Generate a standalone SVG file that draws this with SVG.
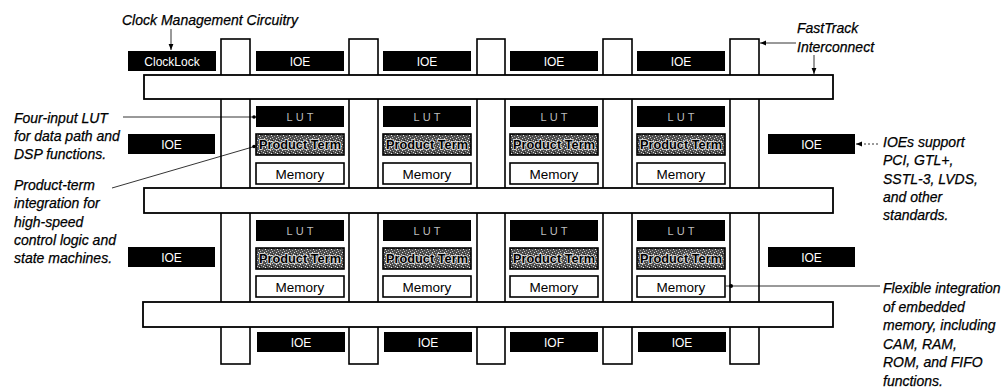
<svg xmlns="http://www.w3.org/2000/svg" width="1004" height="390" viewBox="0 0 1004 390">
<defs>
<style>
.col{fill:#fff;stroke:#000;stroke-width:1.6}
.bar{fill:#fff;stroke:#000;stroke-width:1.8}
.blk{fill:#000}
.ioet{fill:#fff;font-family:'Liberation Sans',Arial,sans-serif;font-size:12px;text-anchor:middle}
.lutt{fill:#bdbdbd;font-family:'Liberation Sans',Arial,sans-serif;font-size:11px;letter-spacing:3px;text-anchor:middle}
.pt{fill:url(#speck);stroke:#000;stroke-width:1.6}
.ptt{fill:#000;stroke:#e6e6e6;stroke-width:1.6;paint-order:stroke;font-family:'Liberation Sans',Arial,sans-serif;font-size:12px;font-weight:bold;text-anchor:middle}
.mem{fill:#fff;stroke:#000;stroke-width:1.6}
.memt{fill:#000;font-family:'Liberation Sans',Arial,sans-serif;font-size:13.5px;text-anchor:middle}
.lbl{fill:#000;stroke:#000;stroke-width:0.25;font-family:'Liberation Sans',Arial,sans-serif;font-size:14px;font-style:italic}
.lead{stroke:#000;stroke-width:0.8;fill:none}
.dash{stroke-dasharray:2 2}
</style>
<pattern id="speck" width="6" height="6" patternUnits="userSpaceOnUse">
<rect width="6" height="6" fill="#4e4e4e"/>
<rect x="0" y="0" width="1" height="1" fill="#e0e0e0"/>
<rect x="3" y="1" width="1" height="1" fill="#b0b0b0"/>
<rect x="1" y="3" width="1" height="1" fill="#f0f0f0"/>
<rect x="4" y="4" width="1" height="1" fill="#a0a0a0"/>
<rect x="5" y="2" width="1" height="1" fill="#d0d0d0"/>
<rect x="2" y="5" width="1" height="1" fill="#c8c8c8"/>
<rect x="2" y="2" width="1" height="1" fill="#1a1a1a"/>
</pattern>
<marker id="ah" viewBox="0 0 10 10" refX="10" refY="5" markerWidth="6" markerHeight="6" markerUnits="userSpaceOnUse" orient="auto"><path d="M0,1 L10,5 L0,9 z" fill="#000"/></marker>
</defs>
<rect width="1004" height="390" fill="#fff"/>

<g id="columns">
<rect class="col" x="221" y="39" width="29" height="325"/>
<rect class="col" x="349" y="39" width="29" height="325"/>
<rect class="col" x="477" y="39" width="28" height="325"/>
<rect class="col" x="603" y="39" width="29" height="325"/>
<rect class="col" x="730" y="39" width="29" height="325"/>
</g>
<g id="bars">
<rect class="bar" x="144" y="75" width="689" height="24"/>
<rect class="bar" x="144" y="188" width="689" height="25"/>
<rect class="bar" x="143" y="302" width="690" height="25"/>
</g>

<g id="clocklock"><rect class="blk" x="128" y="51" width="88" height="20"/><text class="ioet" x="172" y="65.5">ClockLock</text></g>
<g id="ioe-top-1"><rect class="blk" x="256" y="51" width="88" height="20"/><text class="ioet" x="300" y="65.5">IOE</text></g>
<g id="ioe-top-2"><rect class="blk" x="383" y="51" width="88" height="20"/><text class="ioet" x="427" y="65.5">IOE</text></g>
<g id="ioe-top-3"><rect class="blk" x="510" y="51" width="88" height="20"/><text class="ioet" x="554" y="65.5">IOE</text></g>
<g id="ioe-top-4"><rect class="blk" x="637" y="51" width="88" height="20"/><text class="ioet" x="681" y="65.5">IOE</text></g>

<g id="ioe-left-1"><rect class="blk" x="128" y="134" width="87" height="20"/><text class="ioet" x="171.5" y="148.5">IOE</text></g>
<g id="ioe-left-2"><rect class="blk" x="128" y="247" width="87" height="20"/><text class="ioet" x="171.5" y="261.5">IOE</text></g>
<g id="ioe-right-1"><rect class="blk" x="768" y="134" width="87" height="20"/><text class="ioet" x="811.5" y="148.5">IOE</text></g>
<g id="ioe-right-2"><rect class="blk" x="768" y="247" width="87" height="20"/><text class="ioet" x="811.5" y="261.5">IOE</text></g>

<g id="ioe-bot-1"><rect class="blk" x="257" y="332" width="88" height="20"/><text class="ioet" x="301" y="346.5">IOE</text></g>
<g id="ioe-bot-2"><rect class="blk" x="384" y="332" width="88" height="20"/><text class="ioet" x="428" y="346.5">IOE</text></g>
<g id="ioe-bot-3"><rect class="blk" x="510" y="332" width="88" height="20"/><text class="ioet" x="554" y="346.5">IOF</text></g>
<g id="ioe-bot-4"><rect class="blk" x="638" y="332" width="88" height="20"/><text class="ioet" x="682" y="346.5">IOE</text></g>

<g id="lab-1-1"><rect class="blk" x="256" y="106" width="88" height="21"/><text class="lutt" x="301.5" y="121">LUT</text><rect class="pt" x="256" y="134" width="88" height="21"/><text class="ptt" x="300" y="149" textLength="82" lengthAdjust="spacingAndGlyphs">Product Term</text><rect class="mem" x="256" y="163" width="88" height="21"/><text class="memt" x="300" y="178.5">Memory</text></g>
<g id="lab-1-2"><rect class="blk" x="383" y="106" width="88" height="21"/><text class="lutt" x="428.5" y="121">LUT</text><rect class="pt" x="383" y="134" width="88" height="21"/><text class="ptt" x="427" y="149" textLength="82" lengthAdjust="spacingAndGlyphs">Product Term</text><rect class="mem" x="383" y="163" width="88" height="21"/><text class="memt" x="427" y="178.5">Memory</text></g>
<g id="lab-1-3"><rect class="blk" x="510" y="106" width="88" height="21"/><text class="lutt" x="555.5" y="121">LUT</text><rect class="pt" x="510" y="134" width="88" height="21"/><text class="ptt" x="554" y="149" textLength="82" lengthAdjust="spacingAndGlyphs">Product Term</text><rect class="mem" x="510" y="163" width="88" height="21"/><text class="memt" x="554" y="178.5">Memory</text></g>
<g id="lab-1-4"><rect class="blk" x="637" y="106" width="88" height="21"/><text class="lutt" x="682.5" y="121">LUT</text><rect class="pt" x="637" y="134" width="88" height="21"/><text class="ptt" x="681" y="149" textLength="82" lengthAdjust="spacingAndGlyphs">Product Term</text><rect class="mem" x="637" y="163" width="88" height="21"/><text class="memt" x="681" y="178.5">Memory</text></g>

<g id="lab-2-1"><rect class="blk" x="256" y="220" width="88" height="21"/><text class="lutt" x="301.5" y="235">LUT</text><rect class="pt" x="256" y="248" width="88" height="21"/><text class="ptt" x="300" y="263" textLength="82" lengthAdjust="spacingAndGlyphs">Product Term</text><rect class="mem" x="256" y="276" width="88" height="21"/><text class="memt" x="300" y="291.5">Memory</text></g>
<g id="lab-2-2"><rect class="blk" x="383" y="220" width="88" height="21"/><text class="lutt" x="428.5" y="235">LUT</text><rect class="pt" x="383" y="248" width="88" height="21"/><text class="ptt" x="427" y="263" textLength="82" lengthAdjust="spacingAndGlyphs">Product Term</text><rect class="mem" x="383" y="276" width="88" height="21"/><text class="memt" x="427" y="291.5">Memory</text></g>
<g id="lab-2-3"><rect class="blk" x="510" y="220" width="88" height="21"/><text class="lutt" x="555.5" y="235">LUT</text><rect class="pt" x="510" y="248" width="88" height="21"/><text class="ptt" x="554" y="263" textLength="82" lengthAdjust="spacingAndGlyphs">Product Term</text><rect class="mem" x="510" y="276" width="88" height="21"/><text class="memt" x="554" y="291.5">Memory</text></g>
<g id="lab-2-4"><rect class="blk" x="637" y="220" width="88" height="21"/><text class="lutt" x="682.5" y="235">LUT</text><rect class="pt" x="637" y="248" width="88" height="21"/><text class="ptt" x="681" y="263" textLength="82" lengthAdjust="spacingAndGlyphs">Product Term</text><rect class="mem" x="637" y="276" width="88" height="21"/><text class="memt" x="681" y="291.5">Memory</text></g>

<g id="connectors">
<line class="lead" x1="171" y1="29" x2="171" y2="50" marker-end="url(#ah)"/>
<line class="lead" x1="796" y1="43" x2="760" y2="43" marker-end="url(#ah)"/>
<line class="lead" x1="814" y1="55" x2="814" y2="74" marker-end="url(#ah)"/>
<line class="lead dash" x1="878" y1="144" x2="856" y2="144" marker-end="url(#ah)"/>
<line class="lead" x1="123" y1="117" x2="256" y2="117"/>
<circle cx="254" cy="117" r="1.8" fill="#000"/>
<line class="lead" x1="112" y1="188" x2="256" y2="146"/>
<circle cx="254" cy="146.5" r="1.8" fill="#000"/>
<line class="lead" x1="726" y1="286" x2="880" y2="286"/>
<circle cx="731" cy="286" r="2" fill="#000"/>
</g>

<g id="labels">
<text class="lbl" x="122" y="25" textLength="176" lengthAdjust="spacingAndGlyphs">Clock Management Circuitry</text>
<text class="lbl" x="797" y="33">FastTrack</text>
<text class="lbl" x="797" y="52">Interconnect</text>
<text class="lbl" x="14" y="123">Four-input LUT</text>
<text class="lbl" x="14" y="141">for data path and</text>
<text class="lbl" x="14" y="159">DSP functions.</text>
<text class="lbl" x="14" y="190">Product-term</text>
<text class="lbl" x="14" y="208">integration for</text>
<text class="lbl" x="14" y="227">high-speed</text>
<text class="lbl" x="14" y="245">control logic and</text>
<text class="lbl" x="14" y="263">state machines.</text>
<text class="lbl" x="883" y="147">IOEs support</text>
<text class="lbl" x="883" y="165">PCI, GTL+,</text>
<text class="lbl" x="883" y="184">SSTL-3, LVDS,</text>
<text class="lbl" x="883" y="202">and other</text>
<text class="lbl" x="883" y="220">standards.</text>
<text class="lbl" x="883" y="293">Flexible integration</text>
<text class="lbl" x="883" y="311.5">of embedded</text>
<text class="lbl" x="883" y="330">memory, including</text>
<text class="lbl" x="883" y="348.5">CAM, RAM,</text>
<text class="lbl" x="883" y="367">ROM, and FIFO</text>
<text class="lbl" x="883" y="385.5">functions.</text>
</g>
</svg>
